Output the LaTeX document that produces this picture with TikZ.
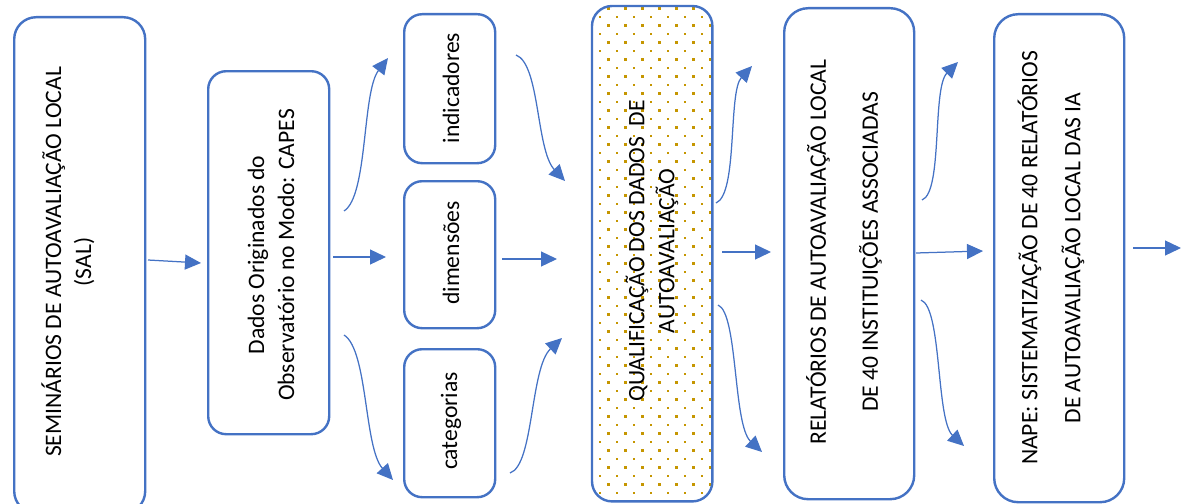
\documentclass[tikz,border=0pt]{standalone}
\usepackage{fontspec}
\setmainfont{Carlito}
\usetikzlibrary{arrows.meta}
\definecolor{office}{RGB}{68,114,196}
\definecolor{dotgold}{RGB}{197,150,0}
\tikzset{
  box/.style={draw=office, line width=2.4pt, rounded corners=#1, anchor=north west, inner sep=0pt, fill=white},
  box/.default=20pt,
  label/.style={rotate=90, align=center, inner sep=0pt, font=\fontsize{23.6}{30}\selectfont},
  conn/.style={draw=office, line width=1.25pt, -{Triangle[length=16pt,width=15pt]}, fill=none},
}
\begin{document}
\begin{tikzpicture}[x=1pt,y=-1pt]
\useasboundingbox (0,0) rectangle (1182,503);
\clip (0,0) rectangle (1182,503);

% process boxes
\node[box=22pt, minimum width=131pt, minimum height=496pt] (sal) at (13,16) {};
\node[box=18pt, minimum width=121pt, minimum height=363pt] (dados) at (207,70) {};
\node[box=18pt, minimum width=91pt, minimum height=149pt] (ind) at (403,13) {};
\node[box=18pt, minimum width=91pt, minimum height=147pt] (dim) at (403,180) {};
\node[box=18pt, minimum width=91pt, minimum height=148pt] (cat) at (403,348) {};
\node[box=20pt, draw=none, minimum width=118pt, minimum height=493pt] (qual) at (592,6) {};
\node[box=24pt, minimum width=130pt, minimum height=491pt] (rel) at (783,7) {};
\node[box=24pt, minimum width=130pt, minimum height=488pt] (nape) at (993,13) {};

% dotted fill of the qualification box, then its border
\begin{scope}
  \clip[rounded corners=20pt] (qual.north west) rectangle (qual.south east);
  \foreach \n in {1,...,58} {
    \pgfmathsetmacro{\yy}{8.5*\n}
    \pgfmathsetmacro{\xo}{iseven(\n) ? 600 : 608.5}
    \foreach \k in {0,...,6} {
      \fill[dotgold] (\xo+17*\k-1.1,\yy-1.1) rectangle (\xo+17*\k+1.1,\yy+1.1);
    }
  }
\end{scope}
\draw[draw=office, line width=2.4pt, rounded corners=20pt] (qual.north west) rectangle (qual.south east);

% texts
\node[label] (tsal) at (68,262) {SEMINÁRIOS DE AUTOAVALIAÇÃO LOCAL\\(SAL)};
\node[label] (tdados) at (271,255) {Dados Originados do\\Observatório no Modo: CAPES};
\node[label] (tind) at (451,88) {indicadores};
\node[label] (tdim) at (451,253) {dimensões};
\node[label] (tcat) at (451,421) {categorias};
\node[label] (tqual) at (652,251) {QUALIFICAÇÃO DOS DADOS\ \ DE\\AUTOAVALIAÇÃO};
\node[label] (trel) at (844,252) {RELATÓRIOS DE AUTOAVALIAÇÃO LOCAL\\[22pt]DE 40 INSTITUIÇÕES ASSOCIADAS};
\node[label] (tnape) at (1051,258) {NAPE: SISTEMATIZAÇÃO DE 40 RELATÓRIOS\\[13pt]DE AUTOAVALIAÇÃO LOCAL DAS IA};

% connector end points
\coordinate (salOut) at (148,260);   \coordinate (dadosIn) at (201,263);
\coordinate (dUp) at (344,211);      \coordinate (indIn) at (388,58);
\coordinate (dMid) at (333,257);     \coordinate (dimIn) at (386,257);
\coordinate (dDown) at (344,335);    \coordinate (catIn) at (393,480);
\coordinate (indOut) at (516,55);    \coordinate (qTop) at (565,181);
\coordinate (dimOut) at (502,259);   \coordinate (qMid) at (557,259);
\coordinate (catOut) at (510,473);   \coordinate (qBot) at (562,338);
\coordinate (qUp) at (716,203);      \coordinate (qUpEnd) at (752,66);
\coordinate (qOut) at (722,252);     \coordinate (relIn) at (771,252);
\coordinate (qDown) at (718,305);    \coordinate (qDownEnd) at (762,452);
\coordinate (rUp) at (922,200);      \coordinate (rUpEnd) at (958,62);
\coordinate (rOut) at (916,253);     \coordinate (napeIn) at (983,251);
\coordinate (rDown) at (921,300);    \coordinate (rDownEnd) at (964,446);
\coordinate (nOut) at (1133,248);    \coordinate (nEnd) at (1181,248);

% connectors
\draw[conn] (salOut) -- (dadosIn);
\draw[conn] (dUp) .. controls (368,196) and (362,92) .. (indIn);
\draw[conn] (dMid) -- (dimIn);
\draw[conn] (dDown) .. controls (368,350) and (364,448) .. (catIn);
\draw[conn] (indOut) .. controls (540,64) and (536,150) .. (qTop);
\draw[conn] (dimOut) -- (qMid);
\draw[conn] (catOut) .. controls (534,465) and (530,368) .. (qBot);
\draw[conn] (qUp) .. controls (738,194) and (728,92) .. (qUpEnd);
\draw[conn] (qOut) -- (relIn);
\draw[conn] (qDown) .. controls (738,313) and (733,425) .. (qDownEnd);
\draw[conn] (rUp) .. controls (943,192) and (932,88) .. (rUpEnd);
\draw[conn] (rOut) -- (napeIn);
\draw[conn] (rDown) .. controls (942,308) and (936,420) .. (rDownEnd);
\draw[conn] (nOut) -- (nEnd);
\end{tikzpicture}
\end{document}
